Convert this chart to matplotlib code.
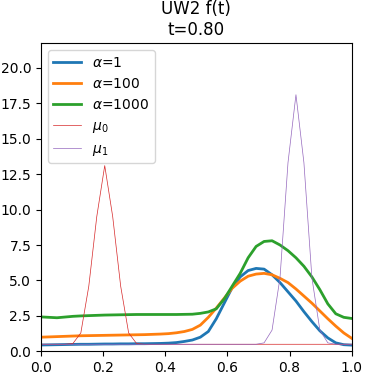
import matplotlib
matplotlib.use("Agg")
import matplotlib.pyplot as plt
import numpy as np

# grid of 40 points on [0, 1]
x = np.linspace(0, 1, 40)

f_a1 = [0.45, 0.46, 0.47, 0.48, 0.49, 0.50, 0.50, 0.51, 0.52, 0.52,
        0.53, 0.53, 0.54, 0.54, 0.55, 0.56, 0.58, 0.62, 0.70, 0.80,
        1.00, 1.40, 2.30, 3.40, 4.50, 5.25, 5.70, 5.85, 5.80, 5.40,
        4.85, 4.20, 3.55, 2.80, 2.10, 1.45, 0.95, 0.60, 0.47, 0.44]
f_a100 = [1.00, 1.02, 1.04, 1.06, 1.08, 1.10, 1.11, 1.12, 1.13, 1.14,
          1.15, 1.16, 1.17, 1.18, 1.20, 1.22, 1.25, 1.31, 1.40, 1.55,
          1.85, 2.40, 3.05, 3.75, 4.45, 4.95, 5.30, 5.45, 5.50, 5.40,
          5.15, 4.85, 4.40, 3.90, 3.40, 2.85, 2.30, 1.78, 1.30, 0.92]
f_a1000 = [2.43, 2.40, 2.37, 2.42, 2.47, 2.50, 2.52, 2.54, 2.56, 2.57,
           2.58, 2.59, 2.60, 2.60, 2.60, 2.60, 2.60, 2.60, 2.61, 2.62,
           2.68, 2.78, 3.00, 3.70, 4.60, 5.50, 6.60, 7.40, 7.75, 7.80,
           7.50, 7.10, 6.60, 6.00, 5.25, 4.35, 3.35, 2.65, 2.40, 2.32]
mu0 = [0.5, 0.5, 0.5, 0.5, 0.55, 1.3, 4.6, 9.5, 13.1, 9.5,
       4.6, 1.3, 0.55, 0.5, 0.5, 0.5, 0.5, 0.5, 0.5, 0.5,
       0.5, 0.5, 0.5, 0.5, 0.5, 0.5, 0.5, 0.5, 0.5, 0.5,
       0.5, 0.5, 0.5, 0.5, 0.5, 0.5, 0.5, 0.5, 0.5, 0.5]
mu1 = [0.5, 0.5, 0.5, 0.5, 0.5, 0.5, 0.5, 0.5, 0.5, 0.5,
       0.5, 0.5, 0.5, 0.5, 0.5, 0.5, 0.5, 0.5, 0.5, 0.5,
       0.5, 0.5, 0.5, 0.5, 0.5, 0.5, 0.5, 0.5, 0.6, 1.5,
       5.2, 13.3, 18.1, 13.3, 5.2, 1.5, 0.6, 0.5, 0.5, 0.5]

fig = plt.figure(figsize=(3.66, 3.77), dpi=100)
ax = fig.add_axes([0.112, 0.068, 0.849, 0.817])

ax.plot(x, f_a1, lw=2, label=r'$\alpha$=1')
ax.plot(x, f_a100, lw=2, label=r'$\alpha$=100')
ax.plot(x, f_a1000, lw=2, label=r'$\alpha$=1000')
ax.plot(x, mu0, color='tab:red', lw=0.5, label=r'$\mu_0$')
ax.plot(x, mu1, color='tab:purple', lw=0.5, label=r'$\mu_1$')

ax.set_xlim(0, 1)
ax.set_ylim(0, 1.2 * max(mu1))
ax.set_title("UW2 f(t)\nt=0.80")
ax.legend(loc='upper left')

fig.savefig("out.png", dpi=100)
